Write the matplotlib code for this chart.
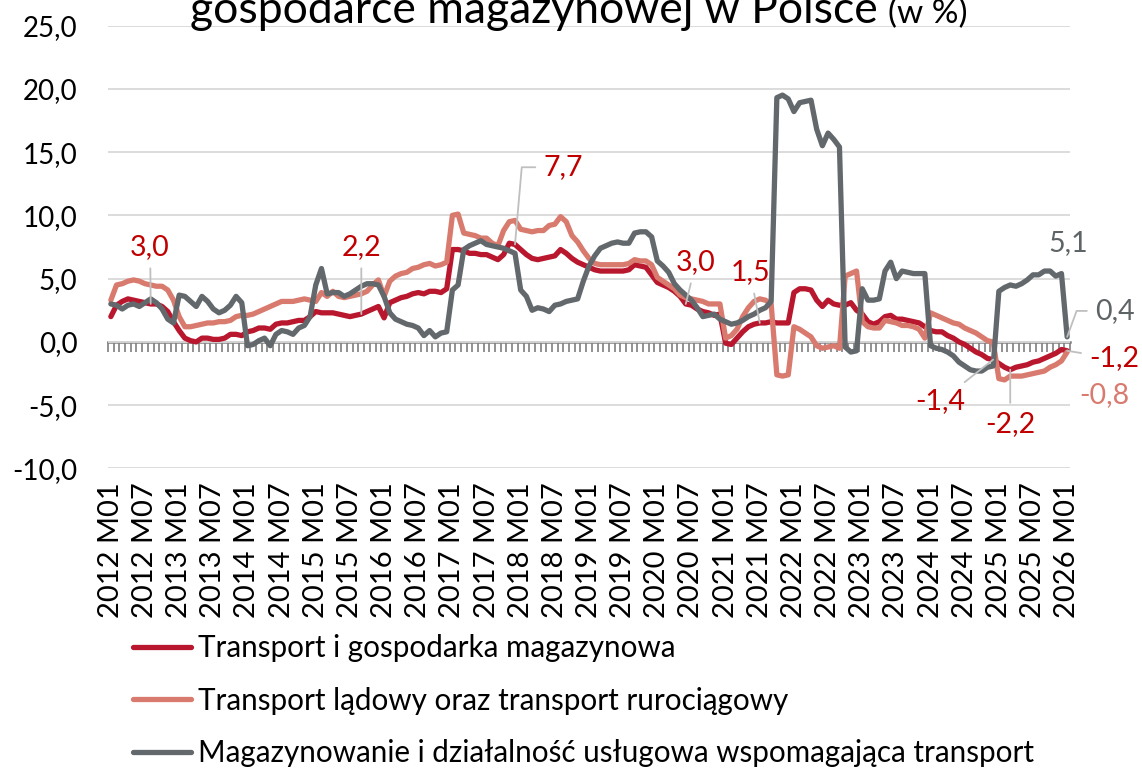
import matplotlib
matplotlib.use("Agg")
import matplotlib.pyplot as plt
import numpy as np

plt.rcParams['font.family'] = ['Lato', 'DejaVu Sans']

# ---------------- data ----------------
months = [f"{y} M{m:02d}" for y in range(2012, 2026) for m in range(1, 13)] + ["2026 M01"]

transport = [
    2.0, 2.9, 3.2, 3.4, 3.3, 3.2, 3.1, 3.0, 3.0, 2.8, 2.4, 1.6,      # 2012
    0.9, 0.3, 0.1, 0.0, 0.3, 0.3, 0.2, 0.2, 0.3, 0.6, 0.6, 0.5,      # 2013
    0.8, 0.9, 1.1, 1.1, 1.0, 1.4, 1.5, 1.5, 1.6, 1.7, 1.7, 2.0,      # 2014
    2.4, 2.3, 2.3, 2.3, 2.2, 2.1, 2.0, 2.1, 2.2, 2.4, 2.6, 2.8,      # 2015
    1.9, 3.1, 3.3, 3.5, 3.6, 3.8, 3.9, 3.8, 4.0, 4.0, 3.9, 4.2,      # 2016
    7.3, 7.3, 7.2, 7.0, 7.0, 6.9, 6.9, 6.7, 6.5, 6.9, 7.8, 7.7,      # 2017
    7.3, 6.9, 6.6, 6.5, 6.6, 6.7, 6.8, 7.3, 7.0, 6.6, 6.3, 6.1,      # 2018
    5.9, 5.7, 5.6, 5.6, 5.6, 5.6, 5.6, 5.7, 6.1, 6.0, 5.9, 5.3,      # 2019
    4.7, 4.5, 4.3, 4.0, 3.6, 3.0, 2.9, 2.6, 2.4, 2.3, 2.1, 2.2,      # 2020
    -0.1, -0.2, 0.3, 0.8, 1.2, 1.4, 1.5, 1.5, 1.6, 1.5, 1.5, 1.5,    # 2021
    3.9, 4.2, 4.2, 4.1, 3.3, 2.8, 3.3, 3.0, 2.9, 2.9, 3.1, 2.5,      # 2022
    2.2, 1.6, 1.4, 1.6, 2.0, 2.1, 1.8, 1.8, 1.7, 1.6, 1.5, 1.2,      # 2023
    0.9, 0.8, 0.8, 0.5, 0.3, 0.0, -0.2, -0.5, -0.8, -1.0, -1.3, -1.4,  # 2024
    -1.7, -2.0, -2.2, -2.0, -1.9, -1.8, -1.6, -1.5, -1.3, -1.1, -0.9, -0.6,  # 2025
    -0.7,                                                              # 2026
]

ladowy = [
    3.3, 4.5, 4.6, 4.8, 4.9, 4.8, 4.6, 4.5, 4.4, 4.4, 4.1, 3.3,
    2.0, 1.2, 1.2, 1.3, 1.4, 1.5, 1.5, 1.6, 1.6, 1.7, 2.0, 2.1,
    2.1, 2.2, 2.4, 2.6, 2.8, 3.0, 3.2, 3.2, 3.2, 3.3, 3.4, 3.3,
    3.2, 3.9, 3.6, 4.0, 3.6, 3.5, 3.6, 3.7, 3.8, 4.0, 4.5, 4.9,
    3.6, 4.8, 5.2, 5.4, 5.5, 5.8, 5.9, 6.1, 6.2, 6.0, 6.1, 6.3,
    10.0, 10.1, 8.6, 8.5, 8.4, 8.2, 8.2, 7.8, 7.6, 8.8, 9.5, 9.6,
    8.9, 8.8, 8.7, 8.8, 8.8, 9.2, 9.3, 9.9, 9.5, 8.4, 7.9, 7.2,
    6.6, 6.2, 6.1, 6.1, 6.1, 6.1, 6.1, 6.2, 6.5, 6.4, 6.4, 6.1,
    5.1, 4.8, 4.5, 4.2, 3.7, 3.5, 3.4, 3.3, 3.2, 3.0, 3.0, 3.0,
    0.3, 0.5, 1.0, 2.0, 2.7, 3.2, 3.4, 3.3, 3.0, -2.6, -2.7, -2.6,
    1.2, 1.0, 0.7, 0.4, -0.3, -0.5, -0.4, -0.3, -0.5, 5.2, 5.4, 5.6,
    1.6, 1.2, 1.1, 1.1, 1.7, 1.6, 1.5, 1.3, 1.3, 1.2, 1.0, 0.3,
    2.3, 2.1, 1.9, 1.7, 1.5, 1.4, 1.1, 0.9, 0.7, 0.4, 0.1, 0.0,
    -2.9, -3.0, -2.7, -2.7, -2.7, -2.6, -2.5, -2.4, -2.3, -2.0, -1.8, -1.5,
    -0.8,
]

magazyn = [
    3.0, 2.9, 2.6, 2.9, 3.0, 2.8, 3.1, 3.4, 3.1, 2.6, 1.8, 1.5,
    3.7, 3.6, 3.2, 2.8, 3.6, 3.2, 2.6, 2.3, 2.5, 2.9, 3.6, 3.1,
    -0.3, -0.2, 0.1, 0.3, -0.3, 0.6, 0.9, 0.8, 0.6, 1.1, 1.3, 2.0,
    4.5, 5.8, 3.8, 3.9, 3.9, 3.6, 3.8, 4.1, 4.4, 4.6, 4.6, 4.5,
    3.6, 2.3, 1.8, 1.6, 1.4, 1.3, 1.1, 0.5, 0.9, 0.4, 0.7, 0.8,
    4.1, 4.5, 7.3, 7.6, 7.8, 8.0, 7.7, 7.6, 7.5, 7.4, 7.2, 7.0,
    4.1, 3.6, 2.5, 2.7, 2.6, 2.4, 2.9, 3.0, 3.2, 3.3, 3.4, 4.8,
    6.0, 6.8, 7.4, 7.6, 7.8, 7.9, 7.8, 7.8, 8.6, 8.7, 8.7, 8.3,
    6.4, 6.0, 5.5, 4.6, 4.1, 3.7, 3.3, 2.7, 2.0, 2.1, 2.2, 1.8,
    1.6, 1.4, 1.5, 1.7, 2.0, 2.2, 2.5, 2.7, 3.2, 19.3, 19.5, 19.2,
    18.2, 18.9, 19.0, 19.1, 16.8, 15.5, 16.5, 16.0, 15.4, -0.4, -0.8, -0.7,
    4.2, 3.3, 3.3, 3.4, 5.6, 6.3, 5.0, 5.6, 5.5, 5.4, 5.4, 5.4,
    -0.3, -0.5, -0.6, -0.8, -1.1, -1.6, -1.9, -2.2, -2.3, -2.3, -2.0, -1.9,
    4.0, 4.3, 4.5, 4.4, 4.6, 4.9, 5.3, 5.3, 5.6, 5.6, 5.2, 5.4,
    0.4,
]

series_names = [
    "Transport i gospodarka magazynowa",
    "Transport lądowy oraz transport rurociągowy",
    "Magazynowanie i działalność usługowa wspomagająca transport",
]
y_ticks = [-10, -5, 0, 5, 10, 15, 20, 25]

# ---------------- style ----------------
C_RED = "#B8172E"
C_SAL = "#D97A6E"
C_GRY = "#62686B"
LBL_RED = "#C00000"
LBL_GRY = "#5E6366"
LBL_SAL = "#D97A6E"
LEADER = "#BFBFBF"

W, H = 1142, 771
fig = plt.figure(figsize=(W / 100, H / 100), dpi=100)
ax = fig.add_axes([108 / W, 1 - 468.5 / H, (1070 - 108) / W, (468.5 - 25.5) / H])

n = len(months)
x = np.arange(n)

ax.set_xlim(-0.5, n - 0.5)
ax.set_ylim(-10, 25)
ax.set_yticks(y_ticks)
ax.set_yticklabels([f"{v:.1f}".replace(".", ",") for v in y_ticks])
ax.grid(axis="y", color="#D9D9D9", lw=1.3, zorder=0)
ax.set_axisbelow(True)
for s in ax.spines.values():
    s.set_visible(False)

lab_idx = list(range(0, n, 6))
ax.set_xticks(lab_idx)
ax.set_xticklabels([months[i] for i in lab_idx], rotation=90, fontsize=21, va="top", ha="center")
ax.tick_params(axis="x", length=0, pad=10)
ax.tick_params(axis="y", length=0, pad=22, labelsize=20)

# zero axis with monthly tick marks
sec = ax.secondary_xaxis(10 / 35)
sec.set_xticks(np.arange(-0.5, n, 1.0))
sec.tick_params(axis="x", direction="out", length=7, width=1.2, color="#7F7F7F", labelbottom=False)
sec.spines["bottom"].set_color("#7F7F7F")
sec.spines["bottom"].set_linewidth(1.8)

lw = 3.8
l1, = ax.plot(x, transport, color=C_RED, lw=lw, solid_joinstyle="round", solid_capstyle="round", zorder=3)
l2, = ax.plot(x, ladowy, color=C_SAL, lw=lw, solid_joinstyle="round", solid_capstyle="round", zorder=4)
l3, = ax.plot(x, magazyn, color=C_GRY, lw=lw, solid_joinstyle="round", solid_capstyle="round", zorder=5)

# ---------------- data labels ----------------
data = {"t": transport, "l": ladowy, "m": magazyn}
# (series, index, text, colour, text position (x, y) in data units, connection style or None)
labels = [
    ("t", 7, "3,0", LBL_RED, (6.9, 7.5), "arc3"),
    ("t", 44, "2,2", LBL_RED, (44.0, 7.5), "arc3"),
    ("t", 71, "7,7", LBL_RED, (79.5, 13.8), "angle,angleA=0,angleB=85,rad=0"),
    ("t", 101, "3,0", LBL_RED, (102.8, 6.3), "arc3"),
    ("t", 114, "1,5", LBL_RED, (112.3, 5.5), "arc3"),
    ("t", 155, "-1,4", LBL_RED, (145.7, -4.7), "arc3"),
    ("t", 158, "-2,2", LBL_RED, (158.0, -6.5), "arc3"),
    ("t", 168, "-1,2", LBL_RED, (176.3, -1.3), "arc3"),
    ("l", 168, "-0,8", LBL_SAL, (174.6, -4.2), None),
    ("m", 166, "5,1", LBL_GRY, (168.2, 7.8), None),
    ("m", 168, "0,4", LBL_GRY, (176.4, 2.45), "angle,angleA=0,angleB=70,rad=0"),
]
for key, i, txt, col, (tx, ty), cs in labels:
    if cs is not None:
        ax.annotate(txt, xy=(i, data[key][i]), xytext=(tx, ty), textcoords="data",
                    ha="center", va="center", color=col, fontsize=20.5,
                    annotation_clip=False, zorder=6,
                    arrowprops=dict(arrowstyle="-", color=LEADER, lw=1.3,
                                    connectionstyle=cs, shrinkA=4, shrinkB=0))
    else:
        ax.text(tx, ty, txt, ha="center", va="center", color=col, fontsize=20.5,
                clip_on=False, zorder=6)

# ---------------- title (upper line cut off, as in the source) ----------------
fig.text(190 / W, 1 - 23 / H, "gospodarce magazynowej w Polsce", ha="left", va="baseline",
         fontsize=32, color="#000000")
fig.text(968 / W, 1 - 23 / H, "(w %)", ha="right", va="baseline", fontsize=24, color="#000000")

# ---------------- legend ----------------
fig.legend([l1, l2, l3], series_names, loc="upper left",
           bbox_to_anchor=(133 / W, 1 - 634 / H), bbox_transform=fig.transFigure,
           frameon=False, fontsize=21.3, handlelength=1.95, handletextpad=0.25,
           labelspacing=0.83, borderpad=0, borderaxespad=0)

fig.savefig("out.png", dpi=100)
